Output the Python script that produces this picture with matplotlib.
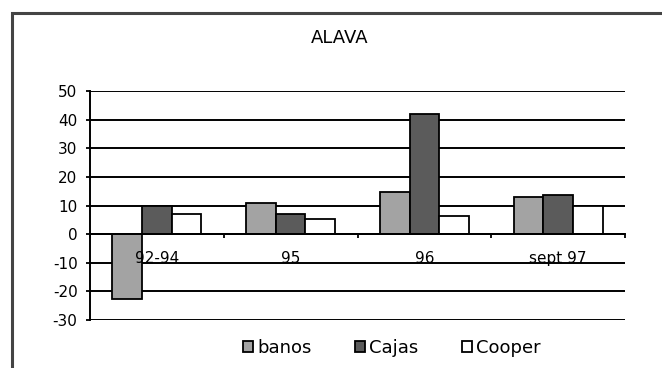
import numpy as np
import matplotlib
matplotlib.use("Agg")
import matplotlib.pyplot as plt
from matplotlib.patches import Rectangle

# ------------------------------------------------------------
# Data
# ------------------------------------------------------------
categories = ["92-94", "95", "96", "sept 97"]
banos = [-22.5, 11, 14.7, 12.9]
cajas = [10, 7.2, 41.8, 13.7]
cooper = [7.2, 5.2, 6.3, 10]
series_names = ["banos", "Cajas", "Cooper"]
yticks = [-30, -20, -10, 0, 10, 20, 30, 40, 50]

colors = ["#a3a3a3", "#5b5b5b", "#ffffff"]

plt.rcParams["font.family"] = ["DejaVu Sans"]

# ------------------------------------------------------------
# Figure / frame
# ------------------------------------------------------------
fig = plt.figure(figsize=(6.62, 3.68), dpi=100)
fig.patches.append(Rectangle((12 / 662, -0.05), 1.1, 1 - 13 / 368 + 0.05,
                             transform=fig.transFigure, fill=False,
                             edgecolor="#444444", linewidth=2.2))

ax = fig.add_axes([90 / 662, 1 - 320 / 368, (625 - 90) / 662, (320 - 91) / 368])

x = np.arange(len(categories))
w = 1 / 4.5
for i, (vals, name) in enumerate(zip([banos, cajas, cooper], series_names)):
    ax.bar(x + (i - 1) * w, vals, width=w, color=colors[i], edgecolor="black",
           linewidth=1.3, label=name, zorder=3)

# ------------------------------------------------------------
# Axes styling
# ------------------------------------------------------------
ax.set_xlim(-0.5, len(categories) - 0.5)
ax.set_ylim(-30, 50)
ax.set_yticks(yticks)
ax.set_yticklabels([str(t) for t in yticks], fontsize=11)
ax.yaxis.grid(True, color="black", linewidth=1.4, zorder=0)
ax.set_axisbelow(True)

ax.spines["top"].set_visible(False)
ax.spines["right"].set_visible(False)
ax.spines["left"].set_linewidth(1.4)
ax.spines["bottom"].set_position(("data", 0))
ax.spines["bottom"].set_linewidth(1.4)
ax.spines["bottom"].set_zorder(4)

ax.set_xticks(x)
ax.set_xticklabels(categories, fontsize=11)
ax.tick_params(axis="x", which="major", length=0, pad=12)
ax.set_xticks(np.arange(len(categories) + 1) - 0.5, minor=True)
ax.tick_params(axis="x", which="minor", length=3, width=1.3, direction="out")
ax.tick_params(axis="y", length=3, width=1.3, pad=6)
ax.xaxis.set_zorder(5)

fig.text(340 / 662, 1 - 38 / 368, "ALAVA", ha="center", va="center", fontsize=13)

fig.legend(loc="center", bbox_to_anchor=(392 / 662, 1 - 348 / 368), ncol=3,
           frameon=False, fontsize=13, handlelength=0.55, handleheight=0.55,
           handletextpad=0.25, columnspacing=2.4)

fig.savefig("out.png", dpi=100)
